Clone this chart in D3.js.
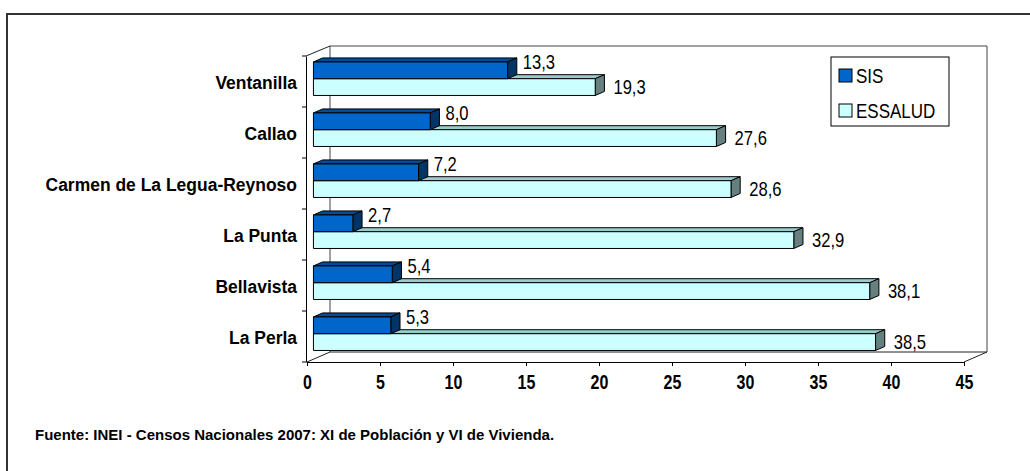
<!DOCTYPE html>
<html>
<head>
<meta charset="utf-8">
<script src="https://cdn.jsdelivr.net/npm/d3@7.9.0/dist/d3.min.js"></script>
<style>
  html, body { margin: 0; padding: 0; background: #fff; overflow: hidden; }
  svg { display: block; }
  text { font-family: "Liberation Sans", Arial, sans-serif; fill: #000; }
</style>
</head>
<body>
<svg id="chart" width="1030" height="471"></svg>
<script>
// data
var categories = ['Ventanilla', 'Callao', 'Carmen de La Legua-Reynoso', 'La Punta', 'Bellavista', 'La Perla']
var sisValues = [13.3, 8.0, 7.2, 2.7, 5.4, 5.3]
var essaludValues = [19.3, 27.6, 28.6, 32.9, 38.1, 38.5]
var seriesNames = ['SIS', 'ESSALUD']
var xTicks = [0, 5, 10, 15, 20, 25, 30, 35, 40, 45]
var sourceNote = 'Fuente: INEI - Censos Nacionales 2007: XI de Población y VI de Vivienda.'

var COLORS = {
    SIS: { front: '#0066cc', top: '#004c99', side: '#003366' },
    ESSALUD: { front: '#ccffff', top: '#99cccc', side: '#668080' },
}

var svg = d3.select('#chart')
var fmt = d3.formatLocale({ decimal: ',', thousands: '.', grouping: [3], currency: ['', ''] }).format('.1f')

// no narrow font installed: squeeze text horizontally around its anchor
function condense(sel, f) {
    sel.each(function () {
        var t = d3.select(this)
        var px = +t.attr('x') || 0, py = +t.attr('y') || 0
        t.attr('transform', 'translate(' + px + ',' + py + ') scale(' + f + ',1) translate(' + (-px) + ',' + (-py) + ')')
    })
}

// outer frame (runs off the right and bottom of the picture)
svg.append('rect')
    .attr('x', 7).attr('y', 14).attr('width', 1100).attr('height', 600)
    .attr('fill', 'none').attr('stroke', '#333').attr('stroke-width', 2)

// front plane of the 3d plot and depth offset
var pLeft = 307, pRight = 964, pTop = 56, pBottom = 362
var DX = 23, DY = -10

var x = d3.scaleLinear().domain([0, 45]).range([pLeft, pRight])
var y = d3.scaleBand().domain(categories).range([pTop, pBottom])
var inner = d3.scaleBand().domain(seriesNames).range([0, y.bandwidth()]).paddingOuter(0.52).paddingInner(0)

// walls
var walls = svg.append('g').attr('fill', 'none').attr('stroke-width', 1)
walls.append('path')
    .attr('d', 'M' + (pLeft + DX) + ',' + (pBottom + DY) + 'V' + (pTop + DY) + 'H' + (pRight + DX) + 'V' + (pBottom + DY))
    .attr('stroke', '#444')
walls.append('path')
    .attr('d', 'M' + (pLeft + DX) + ',' + (pBottom + DY) + 'H' + (pRight + DX))
    .attr('stroke', '#222')
walls.append('path')
    .attr('d', 'M' + (pLeft - 1) + ',' + pTop + 'L' + (pLeft + DX) + ',' + (pTop + DY))
    .attr('stroke', '#222')
walls.append('path')
    .attr('d', 'M' + pLeft + ',' + pBottom + 'L' + (pLeft + DX) + ',' + (pBottom + DY) +
        'M' + pRight + ',' + pBottom + 'L' + (pRight + DX) + ',' + (pBottom + DY))
    .attr('stroke', '#222')

// bars (box shaped), ESSALUD first so SIS covers its top face
var F0 = 0.28, BD = 0.4
var rows = []
categories.forEach(function (c, i) {
    rows.push({ cat: c, series: 'ESSALUD', value: essaludValues[i] })
    rows.push({ cat: c, series: 'SIS', value: sisValues[i] })
})
var ox = DX * F0, oy = DY * F0, bdx = DX * BD, bdy = DY * BD

function geom(d) {
    var x0 = x(0) + ox, x1 = x(d.value) + ox
    var y0 = y(d.cat) + inner(d.series) + oy
    return { x0: x0, x1: x1, y0: y0, y1: y0 + inner.bandwidth() }
}

var bar = svg.append('g').selectAll('g')
    .data(rows)
    .join('g')
    .attr('stroke', '#000').attr('stroke-width', 1).attr('stroke-linejoin', 'round')

bar.append('path')
    .attr('fill', function (d) { return COLORS[d.series].top })
    .attr('d', function (d) {
        var g = geom(d)
        return 'M' + g.x0 + ',' + g.y0 + 'L' + (g.x0 + bdx) + ',' + (g.y0 + bdy) +
            'L' + (g.x1 + bdx) + ',' + (g.y0 + bdy) + 'L' + g.x1 + ',' + g.y0 + 'Z'
    })
bar.append('path')
    .attr('fill', function (d) { return COLORS[d.series].side })
    .attr('d', function (d) {
        var g = geom(d)
        return 'M' + g.x1 + ',' + g.y0 + 'L' + (g.x1 + bdx) + ',' + (g.y0 + bdy) +
            'L' + (g.x1 + bdx) + ',' + (g.y1 + bdy) + 'L' + g.x1 + ',' + g.y1 + 'Z'
    })
bar.append('rect')
    .attr('fill', function (d) { return COLORS[d.series].front })
    .attr('x', function (d) { return geom(d).x0 })
    .attr('y', function (d) { return geom(d).y0 })
    .attr('width', function (d) { var g = geom(d); return g.x1 - g.x0 })
    .attr('height', inner.bandwidth())

// value labels
svg.append('g').selectAll('text')
    .data(rows)
    .join('text')
    .attr('x', function (d) { return geom(d).x1 + bdx + (d.series === 'SIS' ? 6 : 9) })
    .attr('y', function (d) {
        var g = geom(d)
        return d.series === 'SIS' ? g.y0 + 7 : (g.y0 + g.y1) / 2 + 7
    })
    .attr('font-size', 20)
    .text(function (d) { return fmt(d.value) })
    .call(condense, 0.83)

// axes
var xAxis = svg.append('g')
    .attr('transform', 'translate(0,' + pBottom + ')')
    .call(d3.axisBottom(x).tickValues(xTicks).tickSize(4).tickPadding(9).tickFormat(d3.format('d')))
xAxis.select('.domain').attr('stroke', '#000')
xAxis.selectAll('line').attr('stroke', '#000')
xAxis.selectAll('text').attr('font-size', 20).attr('font-weight', 'bold').attr('font-family', null)
    .call(condense, 0.8)

var yAxis = svg.append('g')
    .attr('transform', 'translate(' + (pLeft - 1) + ',0)')
    .call(d3.axisLeft(y).tickSize(0).tickPadding(9))
yAxis.select('.domain').attr('stroke', '#000')
yAxis.selectAll('text').attr('font-size', 19).attr('font-weight', 'bold').attr('font-family', null)
    .attr('dy', '0.38em')
    .call(condense, 0.92)
// category separators on the left axis
yAxis.selectAll('.sep')
    .data(d3.range(categories.length + 1))
    .join('line')
    .attr('class', 'sep')
    .attr('x1', -4).attr('x2', 0)
    .attr('y1', function (i) { return pTop + i * y.step() })
    .attr('y2', function (i) { return pTop + i * y.step() })
    .attr('stroke', '#000')

// legend
var lg = svg.append('g').attr('transform', 'translate(831,57)')
lg.append('rect').attr('width', 118).attr('height', 69).attr('fill', '#fff').attr('stroke', '#000')
seriesNames.forEach(function (s, i) {
    var row = lg.append('g').attr('transform', 'translate(8,' + (12 + i * 35) + ')')
    row.append('rect').attr('width', 13).attr('height', 13)
        .attr('fill', COLORS[s].front).attr('stroke', '#000')
    row.append('text').attr('x', 17).attr('y', 14).attr('font-size', 20).text(s)
        .call(condense, 0.85)
})

// source note
svg.append('text')
    .attr('x', 35).attr('y', 440)
    .attr('font-size', 15).attr('font-weight', 'bold')
    .text(sourceNote)
</script>
</body>
</html>
